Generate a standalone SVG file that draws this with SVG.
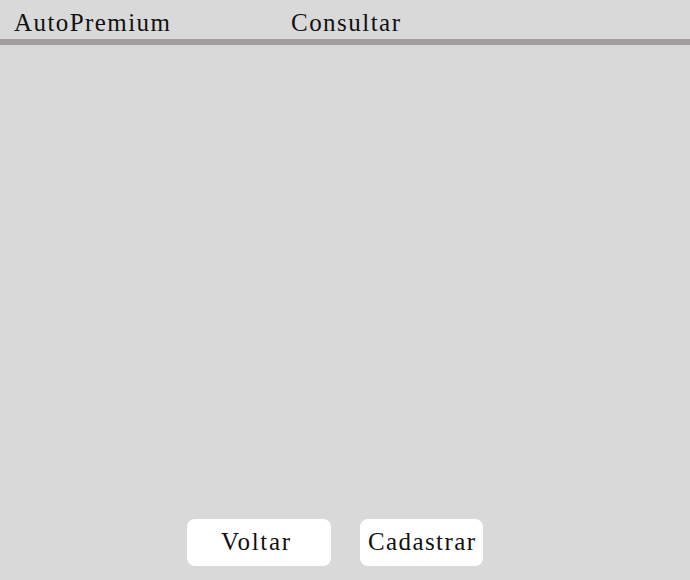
<svg xmlns="http://www.w3.org/2000/svg" width="690" height="580" viewBox="0 0 690 580">
<style>
.t{font-family:"Liberation Serif","DejaVu Serif",serif;font-size:25px;fill:#111;}
.btn{fill:#ffffff;}
</style>
<rect x="0" y="0" width="690" height="580" fill="#d9d9d9"/>
<g id="header">
<text class="t" x="14" y="31" textLength="156" lengthAdjust="spacing">AutoPremium</text>
<text class="t" x="291" y="31" textLength="109" lengthAdjust="spacing">Consultar</text>
<rect x="0" y="39" width="690" height="6" fill="#a39e9e"/>
</g>
<g id="btn-voltar">
<rect class="btn" x="187" y="519" width="144" height="47" rx="8"/>
<text class="t" x="221" y="550" textLength="69" lengthAdjust="spacing">Voltar</text>
</g>
<g id="btn-cadastrar">
<rect class="btn" x="360" y="519" width="123" height="47" rx="8"/>
<text class="t" x="368" y="550" textLength="107" lengthAdjust="spacing">Cadastrar</text>
</g>
<g id="connectors"/>
</svg>
